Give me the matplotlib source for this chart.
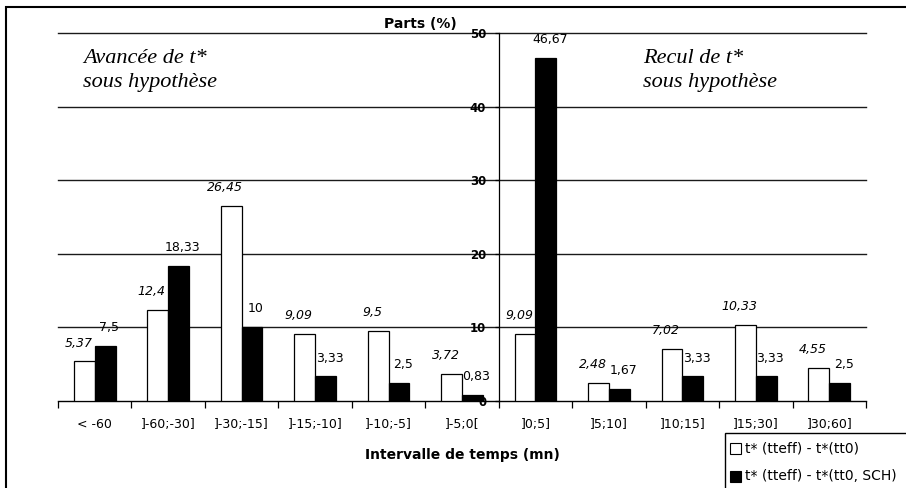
import numpy as np
import matplotlib
matplotlib.use("Agg")
import matplotlib.pyplot as plt
from matplotlib.patches import Rectangle

categories = ["< -60", "]-60;-30]", "]-30;-15]", "]-15;-10]", "]-10;-5]", "]-5;0[",
              "]0;5]", "]5;10]", "]10;15]", "]15;30]", "]30;60]"]
white_vals = [5.37, 12.4, 26.45, 9.09, 9.5, 3.72, 9.09, 2.48, 7.02, 10.33, 4.55]
black_vals = [7.5, 18.33, 10, 3.33, 2.5, 0.83, 46.67, 1.67, 3.33, 3.33, 2.5]
y_ticks = [0, 10, 20, 30, 40, 50]
legend_labels = ["t* (tteff) - t*(tt0)", "t* (tteff) - t*(tt0, SCH)"]

W, H = 906, 488
fig = plt.figure(figsize=(W / 100, H / 100), dpi=100)
plt.rcParams["font.family"] = ["DejaVu Sans"]


def px(x, y):
    # pixel coords (top-left origin) -> figure fraction
    return x / W, 1 - y / H


ax = fig.add_axes([58 / W, 87 / H, 808 / W, 368 / H])
ax.set_facecolor("none")

x = np.arange(len(categories))
bw = 0.283
ax.bar(x - bw / 2, white_vals, bw, color="white", edgecolor="black", linewidth=0.9, zorder=3)
ax.bar(x + bw / 2, black_vals, bw, color="black", edgecolor="black", linewidth=0.9, zorder=3)


def fmt(v):
    return f"{v:g}".replace(".", ",")


for xi, v in zip(x, white_vals):
    ax.annotate(fmt(v), (xi - bw / 2, v), xytext=(-4.3, 13.3), textcoords="offset points",
                ha="center", va="center", fontsize=9, style="italic", zorder=4)
for xi, v in zip(x, black_vals):
    ax.annotate(fmt(v), (xi + bw / 2, v), xytext=(2.9, 13.3), textcoords="offset points",
                ha="center", va="center", fontsize=9, zorder=4)

ax.set_xlim(-0.5, len(categories) - 0.5)
ax.set_ylim(0, 50)

# gridlines
for t in y_ticks[1:]:
    ax.axhline(t, color="#1a1a1a", linewidth=1.0, zorder=1, clip_on=False)

for s in ["top", "right"]:
    ax.spines[s].set_visible(False)
ax.spines["left"].set_position(("data", 5.5))
ax.spines["left"].set_linewidth(0.9)
ax.spines["bottom"].set_linewidth(1.0)
ax.spines["left"].set_zorder(2)

ax.set_yticks(y_ticks)
ax.set_yticklabels([str(t) for t in y_ticks], fontweight="bold", fontsize=8.5)
ax.tick_params(axis="y", direction="out", length=3, width=0.9, pad=6)

ax.set_xticks(x)
ax.set_xticklabels(categories, fontsize=9)
ax.set_xticks(np.arange(-0.5, len(categories)), minor=True)
ax.tick_params(axis="x", which="major", length=0, pad=12)
ax.tick_params(axis="x", which="minor", length=5, width=0.9, direction="out")

# axis titles
fig.text(*px(457, 28), "Parts (%)", ha="right", va="baseline", fontsize=10, fontweight="bold")
fig.text(*px(462, 455), "Intervalle de temps (mn)", ha="center", va="center",
         fontsize=10, fontweight="bold")

# italic annotations
for xpos, lines in [(83, ["Avancée de t*", "sous hypothèse"]), (643, ["Recul de t*", "sous hypothèse"])]:
    for yb, line in zip([63, 87], lines):
        fig.text(*px(xpos, yb), line, ha="left", va="baseline", fontsize=16,
                 family="Liberation Serif", style="italic")

# outer border (cropped on right/bottom)
fig.add_artist(Rectangle(px(6, 520), 1.2, (520 - 6.5) / H, transform=fig.transFigure,
                         fill=False, edgecolor="black", linewidth=1.5, clip_on=False))

# legend box
fig.add_artist(Rectangle(px(725, 520), 0.5, (520 - 433) / H, transform=fig.transFigure,
                         facecolor="white", edgecolor="black", linewidth=1.0, zorder=5))
for yc, fc, lab in zip([448, 476], ["white", "black"], legend_labels):
    fig.add_artist(Rectangle(px(730, yc + 5.5), 11 / W, 11 / H, transform=fig.transFigure,
                             facecolor=fc, edgecolor="black", linewidth=0.8, zorder=6))
    fig.text(*px(745, yc), lab, ha="left", va="center", fontsize=10, zorder=6)

fig.savefig("out.png", dpi=100)
